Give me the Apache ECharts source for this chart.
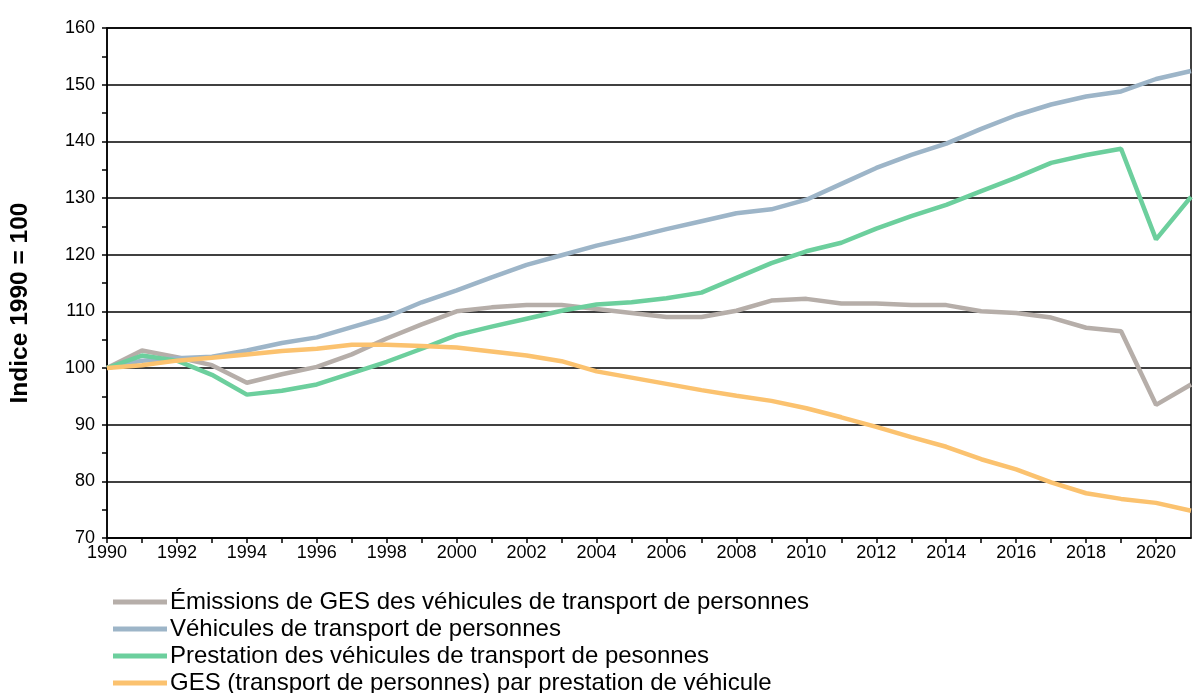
<!DOCTYPE html>
<html>
<head>
<meta charset="utf-8">
<script src="https://cdn.jsdelivr.net/npm/echarts@6/dist/echarts.min.js"></script>
<style>
  html, body { margin: 0; padding: 0; background: #fff; }
  #chart { width: 1193px; height: 693px; }
</style>
</head>
<body>
<div id="chart"></div>
<script type="text/javascript">
// années 1990 - 2021
var years = [];
for (var y = 1990; y <= 2021; y++) { years.push(y); }

var seriesNames = [
    "Émissions de GES des véhicules de transport de personnes",
    "Véhicules de transport de personnes",
    "Prestation des véhicules de transport de pesonnes",
    "GES (transport de personnes) par prestation de véhicule"
];

var emissions = [100, 103.1, 101.9, 100.5, 97.4, 98.9, 100.2, 102.4, 105.2, 107.7, 110,
    110.7, 111.1, 111.1, 110.4, 109.7, 109, 109, 110.1, 111.9, 112.2,
    111.4, 111.4, 111.1, 111.1, 110, 109.7, 108.9, 107.1, 106.5, 93.5, 97.1];

var vehicules = [100, 101.3, 101.7, 102, 103.1, 104.4, 105.4, 107.2, 109, 111.6, 113.7,
    116, 118.2, 119.9, 121.6, 123, 124.5, 125.9, 127.3, 128, 129.7,
    132.5, 135.3, 137.6, 139.6, 142.2, 144.6, 146.5, 147.9, 148.8, 151, 152.4];

var prestation = [100, 102.2, 101.3, 98.8, 95.3, 96, 97.1, 99.1, 101.1, 103.4, 105.8,
    107.3, 108.7, 110.1, 111.2, 111.6, 112.3, 113.3, 115.9, 118.5, 120.6,
    122.1, 124.6, 126.8, 128.8, 131.2, 133.6, 136.2, 137.6, 138.7, 122.7, 130.2];

var gesParPrestation = [100, 100.5, 101.3, 101.8, 102.4, 103, 103.4, 104.1, 104.1, 103.9, 103.6,
    102.9, 102.2, 101.2, 99.4, 98.3, 97.2, 96.1, 95.1, 94.2, 92.9,
    91.3, 89.6, 87.8, 86.1, 83.9, 82.1, 79.8, 77.9, 76.9, 76.2, 74.8];

var colors = ['#b6aea9', '#9db5c8', '#6ccf9d', '#fbc26f'];
var allData = [emissions, vehicules, prestation, gesParPrestation];

function pairs(arr) {
    return arr.map(function (v, i) { return [years[i], v]; });
}

var chart = echarts.init(document.getElementById('chart'), null, {renderer: 'canvas'});

var series = [];
for (var k = 0; k < allData.length; k++) {
    series.push({
        name: seriesNames[k],
        type: 'line',
        data: pairs(allData[k]),
        symbol: 'none',
        lineStyle: {color: colors[k], width: 4.5},
        itemStyle: {color: colors[k]},
        z: 3 + k
    });
}

// legende sur 4 lignes (la derniere coupee en bas comme l'original)
function makeLegend(top, names) {
    return {
        orient: 'vertical',
        left: 113,
        top: top,
        padding: 0,
        icon: 'rect',
        itemWidth: 54,
        itemHeight: 5,
        itemGap: 3,
        textStyle: {fontSize: 24, color: '#000', padding: [0, 0, 0, -2]},
        data: names
    };
}

var option = {
    animation: false,
    textStyle: {fontFamily: 'Liberation Sans, Arial, sans-serif', color: '#000'},
    grid: {
        left: 106, right: 2, top: 28, bottom: 155,
        show: true, borderColor: '#000', borderWidth: 1.5
    },
    legend: [
        makeLegend(590, seriesNames.slice(0, 3)),
        makeLegend(671, seriesNames.slice(3))
    ],
    xAxis: {
        type: 'value',
        min: 1990,
        max: 2021,
        interval: 1,
        axisLine: {show: true, lineStyle: {color: '#000', width: 1.5}},
        axisTick: {show: true, inside: false, length: 5, lineStyle: {color: '#000', width: 1.5}},
        splitLine: {show: false},
        axisLabel: {
            fontSize: 18, color: '#000', margin: 6,
            showMaxLabel: false,
            formatter: function (v) { return v % 2 === 0 ? String(v) : ''; }
        }
    },
    yAxis: {
        type: 'value',
        min: 70,
        max: 160,
        interval: 10,
        name: 'Indice 1990 = 100',
        nameLocation: 'middle',
        nameGap: 74,
        nameTextStyle: {fontSize: 24.5, fontWeight: 'bold', color: '#000', padding: [0, 40, 0, 0]},
        axisLine: {show: true, lineStyle: {color: '#000', width: 1.5}},
        axisTick: {show: true, length: 5, lineStyle: {color: '#000', width: 1.5}},
        minorTick: {show: true, splitNumber: 2, length: 5, lineStyle: {color: '#000', width: 1.5}},
        splitLine: {show: true, lineStyle: {color: '#000', width: 1.5}},
        axisLabel: {fontSize: 18, color: '#000', margin: 12}
    },
    series: series
};

chart.setOption(option);
</script>
</body>
</html>
